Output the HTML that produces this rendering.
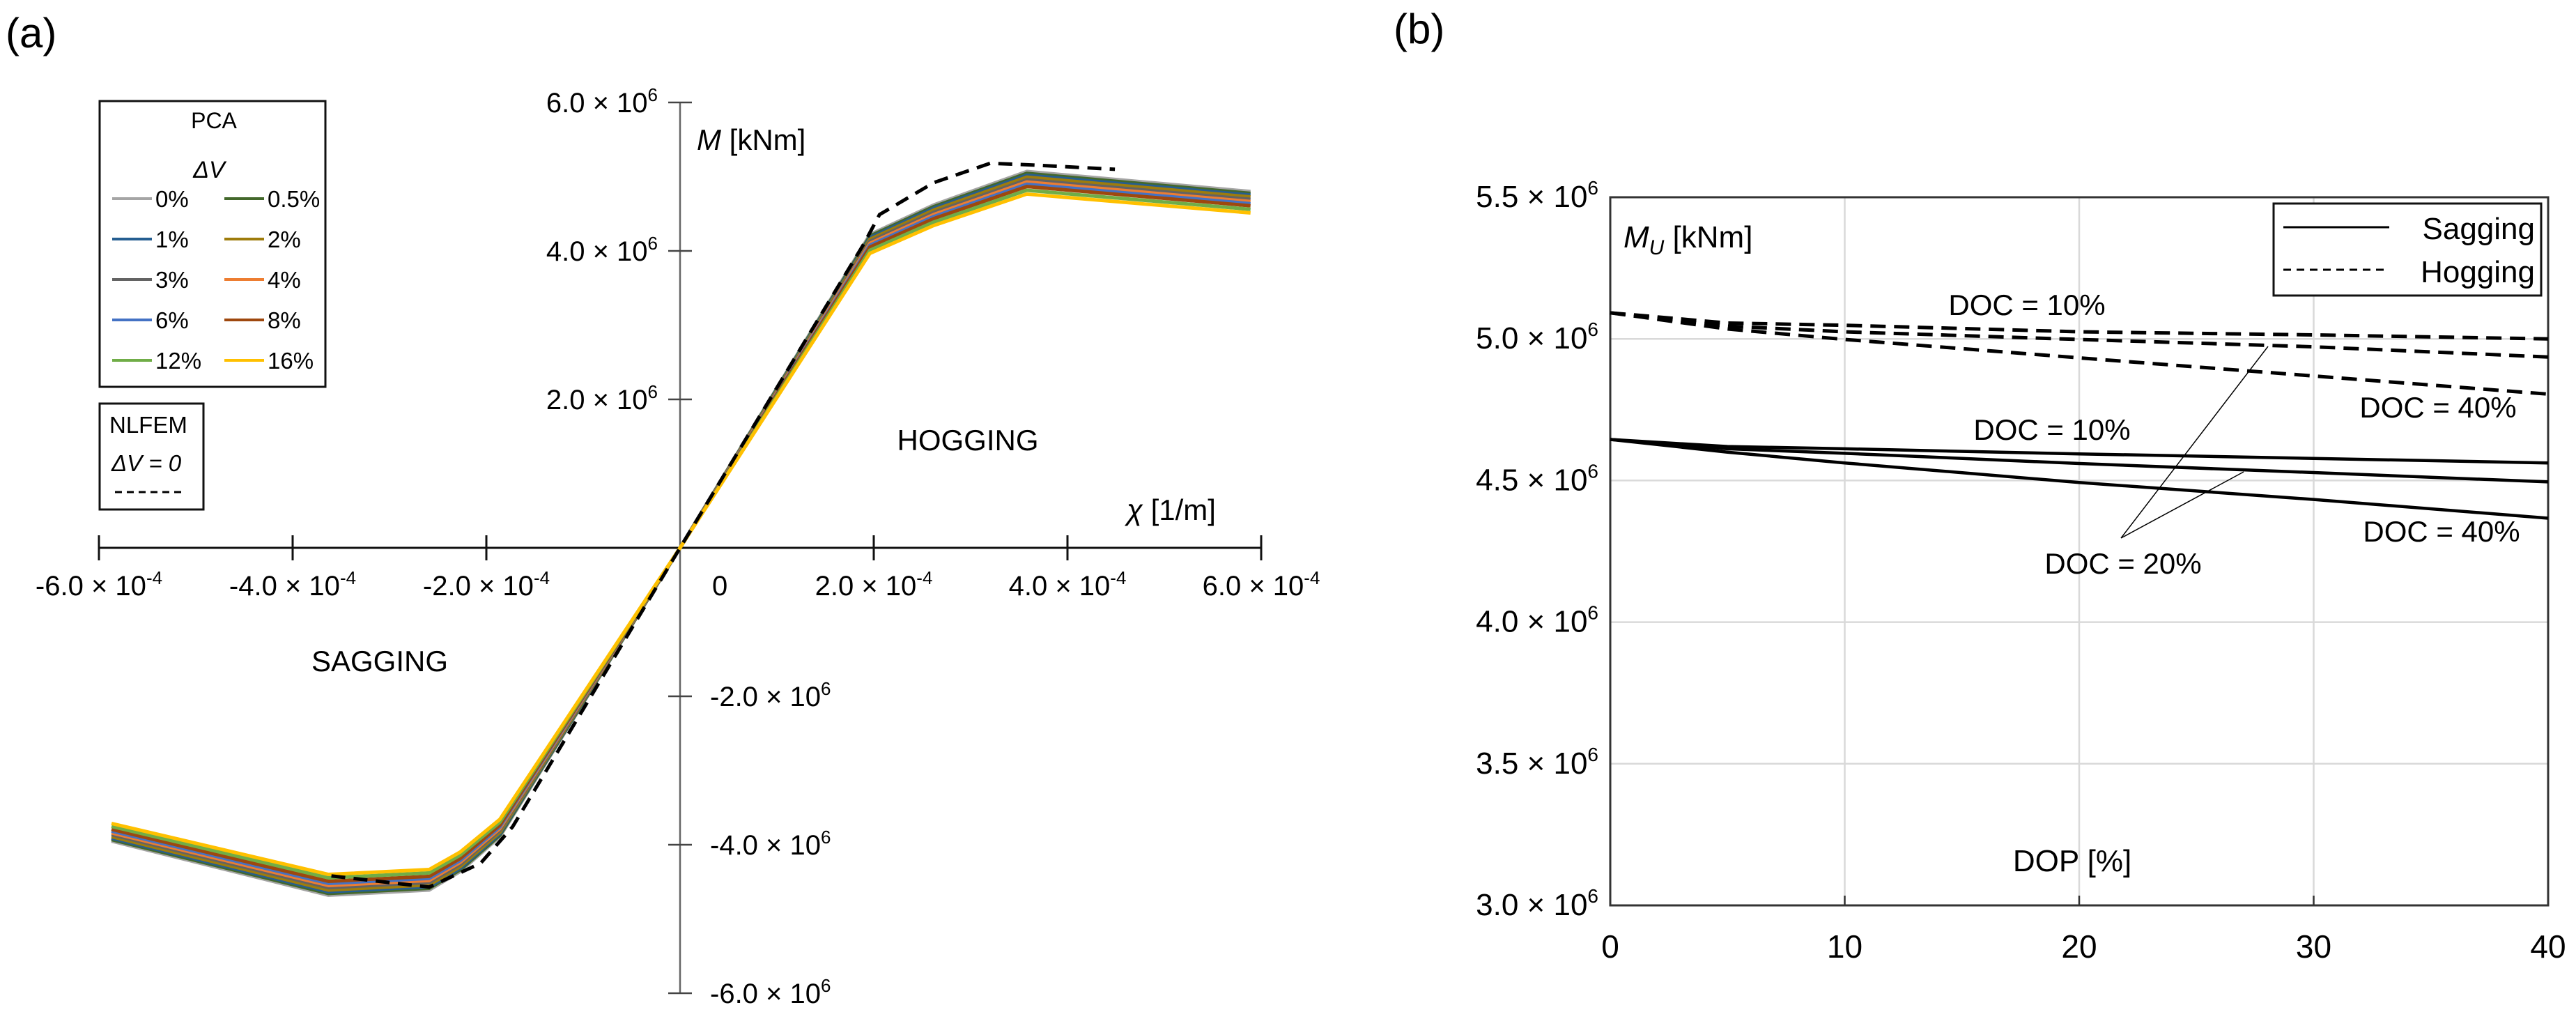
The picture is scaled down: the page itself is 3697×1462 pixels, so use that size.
<!DOCTYPE html>
<html><head><meta charset="utf-8"><style>
html,body{margin:0;padding:0;background:#fff;}
svg{display:block;font-family:"Liberation Sans",sans-serif;}
</style></head><body>
<svg id="fig" width="3697" height="1462" viewBox="0 0 3697 1462" xmlns="http://www.w3.org/2000/svg">
<rect width="3697" height="1462" fill="#fff"/>
<text x="8" y="68" font-size="60">(a)</text>
<text x="2000" y="62" font-size="60">(b)</text>
<g id="pa"></g>
<g id="pb"></g>
</svg>
<script>
// ---------- Panel (a) data ----------
const aChi = [-5.87,-3.63,-2.59,-2.27,-1.86,0,1.96,2.62,3.58,5.89];      // x 1e-4 1/m
const aM0  = [-3.95,-4.68,-4.61,-4.36,-3.89,0,4.22,4.62,5.07,4.80];      // 1e6 kNm, ΔV=0%
const aLabels = ['0%','0.5%','1%','2%','3%','4%','6%','8%','12%','16%'];
const aFactor = [1.0,0.995,0.99,0.985,0.978,0.972,0.966,0.96,0.95,0.94];
const aColors = ['#a5a5a5','#43682b','#255e91','#9e7c0c','#636363','#ed7d31','#4472c4','#9e480e','#70ad47','#ffc000'];
const nlChi = [-3.6,-2.59,-2.06,-1.73,0,1.9,2.06,2.62,3.2,3.6,4.49];
const nlM   = [-4.42,-4.57,-4.25,-3.76,0,4.1,4.49,4.92,5.18,5.16,5.10];
const aXTicks = [-6,-4,-2,2,4,6];
const aXTickLabels = ['-6.0','-4.0','-2.0','2.0','4.0','6.0'];
const aYTicks = [6,4,2,-2,-4,-6];
const aYTickLabels = ['6.0','4.0','2.0','-2.0','-4.0','-6.0'];

// ---------- Panel (b) data ----------
const bDop = [0,5,10,20,30,40];
const bHog10 = [5.092,5.056,5.048,5.025,5.014,5.0];
const bHog20 = [5.092,5.045,5.025,4.998,4.972,4.936];
const bHog40 = [5.092,5.035,4.998,4.933,4.869,4.805];
const bSag10 = [4.645,4.62,4.612,4.594,4.578,4.562];
const bSag20 = [4.645,4.612,4.596,4.56,4.528,4.495];
const bSag40 = [4.645,4.6,4.562,4.493,4.433,4.367];
const bXTicks = [0,10,20,30,40];
const bYTicks = [3.0,3.5,4.0,4.5,5.0,5.5];

const NS='http://www.w3.org/2000/svg';
function mk(parent,tag,attrs){const e=document.createElementNS(NS,tag);for(const k in attrs)e.setAttribute(k,attrs[k]);parent.appendChild(e);return e;}

// ---- Panel a ----
const pa=document.getElementById('pa');
const ax0=976, ay0=786, axs=139, ays=106.5;
const X=v=>ax0+v*axs, Y=v=>ay0-v*ays;
let e;
e=mk(pa,'line',{x1:X(-6),y1:ay0,x2:X(6),y2:ay0,stroke:'#111','stroke-width':3});


e=mk(pa,'line',{x1:ax0,y1:Y(6),x2:ax0,y2:Y(-6),stroke:'#666','stroke-width':2.5});


aXTicks.forEach((t,i)=>{
  e=mk(pa,'line',{x1:X(t),y1:ay0-18,x2:X(t),y2:ay0+18,stroke:'#111','stroke-width':3});
  
  
  e=mk(pa,'text',{x:X(t),y:ay0+68,'font-size':40,'text-anchor':'middle'});
  e.innerHTML=aXTickLabels[i]+' × 10<tspan dy="-16" font-size="26">-4</tspan>';
  
  
});
e=mk(pa,'text',{x:1022,y:ay0+68,'font-size':40});e.textContent='0';


aYTicks.forEach((t,i)=>{
  e=mk(pa,'line',{x1:ax0-17,y1:Y(t),x2:ax0+17,y2:Y(t),stroke:'#444','stroke-width':2.5});
  
  
  const pos=t>0;
  e=mk(pa,'text',{x:pos?944:1019,y:Y(t)+14,'font-size':40,'text-anchor':pos?'end':'start'});
  e.innerHTML=aYTickLabels[i]+' × 10<tspan dy="-16" font-size="26">6</tspan>';
  
  
});
e=mk(pa,'text',{x:1000,y:215,'font-size':42});e.innerHTML='<tspan font-style="italic">M</tspan> [kNm]';


e=mk(pa,'text',{x:1617,y:746,'font-size':42});e.innerHTML='<tspan font-style="italic">χ</tspan> [1/m]';


e=mk(pa,'text',{x:1389,y:646,'font-size':42,'text-anchor':'middle'});e.textContent='HOGGING';


e=mk(pa,'text',{x:545,y:963,'font-size':42,'text-anchor':'middle'});e.textContent='SAGGING';


aFactor.forEach((f,i)=>{
  const pts=aChi.map((c,j)=>X(c)+','+Y(aM0[j]*f)).join(' ');
  e=mk(pa,'polyline',{points:pts,fill:'none',stroke:aColors[i],'stroke-width':5,'stroke-linejoin':'round'});
  
  
});
e=mk(pa,'polyline',{points:nlChi.map((c,j)=>X(c)+','+Y(nlM[j])).join(' '),fill:'none',stroke:'#000','stroke-width':5,'stroke-dasharray':'20 12'});


// legend a
e=mk(pa,'rect',{x:143,y:145,width:324,height:410,fill:'#fff',stroke:'#111','stroke-width':3});


e=mk(pa,'text',{x:307,y:184,'font-size':32,'text-anchor':'middle'});e.textContent='PCA';


e=mk(pa,'text',{x:300,y:255,'font-size':34,'text-anchor':'middle','font-style':'italic'});e.textContent='ΔV';


aLabels.forEach((l,i)=>{
  const col=i%2, row=Math.floor(i/2);
  const lx=col?322:161, ly=285+row*58;
  e=mk(pa,'line',{x1:lx,y1:ly,x2:lx+57,y2:ly,stroke:aColors[i],'stroke-width':4});
  
  
  e=mk(pa,'text',{x:lx+62,y:ly+12,'font-size':33});e.textContent=l;
  
  
});
e=mk(pa,'rect',{x:143,y:579,width:149,height:152,fill:'#fff',stroke:'#111','stroke-width':3});


e=mk(pa,'text',{x:157,y:621,'font-size':33});e.textContent='NLFEM';


e=mk(pa,'text',{x:160,y:676,'font-size':33,'font-style':'italic'});e.textContent='ΔV = 0';


e=mk(pa,'line',{x1:165,y1:706,x2:260,y2:706,stroke:'#000','stroke-width':3,'stroke-dasharray':'10 7'});



// ---- Panel b ----
const pb=document.getElementById('pb');
const bx0=2311, bx1=3657, by0=1299, by1=283;
const BX=v=>bx0+(v/40)*(bx1-bx0), BY=v=>by0-(v-3.0)/2.5*(by0-by1);
bXTicks.forEach(t=>{
  if(t>0&&t<40){e=mk(pb,'line',{x1:BX(t),y1:by1,x2:BX(t),y2:by0,stroke:'#d9d9d9','stroke-width':2.5});
  
  }
  e=mk(pb,'line',{x1:BX(t),y1:by0,x2:BX(t),y2:by0-14,stroke:'#333','stroke-width':2.5});
  
  
  e=mk(pb,'text',{x:BX(t),y:1374,'font-size':46,'text-anchor':'middle'});e.textContent=t;
  
  
});
bYTicks.forEach(t=>{
  if(t>3&&t<5.5){e=mk(pb,'line',{x1:bx0,y1:BY(t),x2:bx1,y2:BY(t),stroke:'#d9d9d9','stroke-width':2.5});
  
  }
  e=mk(pb,'text',{x:2294,y:BY(t)+14,'font-size':44,'text-anchor':'end'});
  e.innerHTML=t.toFixed(1)+' × 10<tspan dy="-18" font-size="28">6</tspan>';
  
  
});
e=mk(pb,'rect',{x:bx0,y:by1,width:bx1-bx0,height:by0-by1,fill:'none',stroke:'#333','stroke-width':3});


const bSeries=[[bHog10,true,'hogging-doc10'],[bHog20,true,'hogging-doc20'],[bHog40,true,'hogging-doc40'],[bSag10,false,'sagging-doc10'],[bSag20,false,'sagging-doc20'],[bSag40,false,'sagging-doc40']];
bSeries.forEach(s=>{
  const a={points:bDop.map((d,j)=>BX(d)+','+BY(s[0][j])).join(' '),fill:'none',stroke:'#000','stroke-width':s[1]?5:4.5};
  if(s[1])a['stroke-dasharray']='22 12';
  e=mk(pb,'polyline',a);
  
  
});
e=mk(pb,'path',{d:'M3044 772 L3255 497 M3044 772 L3220 677',stroke:'#000','stroke-width':1.5,fill:'none'});


[[2909,452,'DOC = 10%','annot-hog-doc10'],[3499,599,'DOC = 40%','annot-hog-doc40'],[2945,631,'DOC = 10%','annot-sag-doc10'],[3504,777,'DOC = 40%','annot-sag-doc40'],[3047,823,'DOC = 20%','annot-doc20']].forEach(a=>{
  e=mk(pb,'text',{x:a[0],y:a[1],'font-size':42,'text-anchor':'middle'});e.textContent=a[2];
  
  
});
e=mk(pb,'text',{x:2330,y:355,'font-size':44});e.innerHTML='<tspan font-style="italic">M</tspan><tspan font-size="30" dy="10" font-style="italic">U</tspan><tspan dy="-10"> [kNm]</tspan>';


e=mk(pb,'text',{x:2974,y:1250,'font-size':44,'text-anchor':'middle'});e.textContent='DOP [%]';


e=mk(pb,'rect',{x:3263,y:292,width:384,height:132,fill:'#fff',stroke:'#111','stroke-width':3});


e=mk(pb,'line',{x1:3277,y1:326,x2:3429,y2:326,stroke:'#000','stroke-width':3});


e=mk(pb,'line',{x1:3277,y1:387,x2:3429,y2:387,stroke:'#000','stroke-width':3,'stroke-dasharray':'11 8'});


e=mk(pb,'text',{x:3638,y:343,'font-size':44,'text-anchor':'end'});e.textContent='Sagging';


e=mk(pb,'text',{x:3638,y:405,'font-size':44,'text-anchor':'end'});e.textContent='Hogging';


</script>
</body></html>
